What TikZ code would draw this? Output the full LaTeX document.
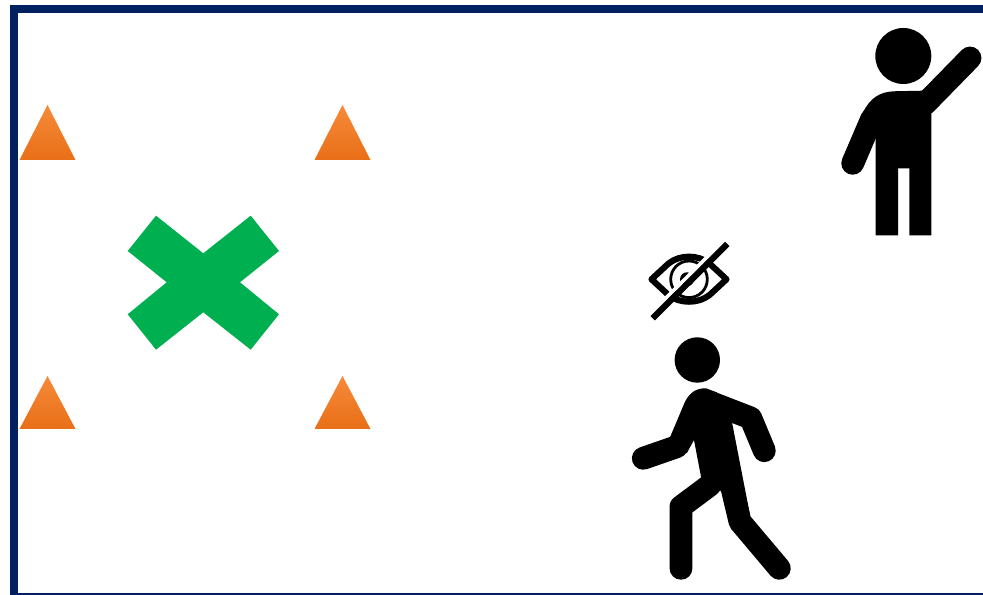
\documentclass[tikz,border=0pt]{standalone}
\usepackage{xcolor}
\usepackage{tikz}
\definecolor{frameNavy}{HTML}{002060}
\definecolor{markGreen}{HTML}{00B050}
\definecolor{coneTop}{HTML}{F68A3A}
\definecolor{coneBottom}{HTML}{E96F17}
\begin{document}
\begin{tikzpicture}[
  x=0.1mm,y=-0.1mm,
  cone/.style={top color=coneTop,bottom color=coneBottom,draw=none},
  limb/.style={line width=6.5pt,line cap=round,line join=round,black},
  eyeline/.style={line width=1.75pt,line join=round,black}
]
\useasboundingbox (0,0) rectangle (983,595);
\fill[white] (0,0) rectangle (983,595);
% frame, open on the right
\fill[frameNavy] (10,5) rectangle (983,595);
\fill[white] (18,13) rectangle (983,593);
% cones
\path[cone] (47.5,105) -- ++(28,55) -- ++(-56,0) -- cycle;
\path[cone] (342.5,105) -- ++(28,55) -- ++(-56,0) -- cycle;
\path[cone] (47.5,376) -- ++(28,53) -- ++(-56,0) -- cycle;
\path[cone] (342.5,376) -- ++(28,53) -- ++(-56,0) -- cycle;
% green cross
\fill[markGreen] (156,215.7) -- (203.3,253.3) -- (250.7,215.7) -- (279,251) -- (240,282.3)
  -- (279,314.3) -- (250.7,349.7) -- (203.3,312.3) -- (156,349.7) -- (127.7,314.3)
  -- (166.7,282.3) -- (127.7,251) -- cycle;
% person waving
\fill (903.3,56) circle (28);
\fill (875.7,235.3) -- (875.7,130) -- (863.3,112) .. controls (870,98) and (880,92) .. (893.3,91.3)
  -- (923.3,90.7) -- (931.3,113.3) -- (931.3,235.3) -- (909.3,235.3)
  -- (909.3,168.3) -- (898,168.3) -- (898,235.3) -- cycle;
\draw[limb] (852.7,163.3) -- (871.7,119);
\draw[limb] (970,58) -- (925,104);
% person walking
\fill (697.3,360) circle (22.7);
\fill (685,401.7) .. controls (690,392) and (697,388) .. (706,388.3) -- (716.7,392.3)
  -- (731.7,420.7) -- (750,515) -- (730,523.3) -- (721.7,491.7)
  -- (701,476.7) -- (694,440) -- (686.7,453.3) -- (670,437.3) -- cycle;
\draw[limb] (712,403) -- (750.7,418) -- (764.3,450.7);
\draw[limb] (676.7,446.7) -- (643.3,458.3);
\draw[limb] (681,568.3) -- (681,506.7) -- (710,485);
\draw[limb] (779.3,568.3) -- (740,521.7) -- (731.7,486.7);
% crossed out eye
\draw[eyeline] (651.5,279.3) -- (668,264) .. controls (675,258.5) and (682,256.7) .. (689,256.7)
  .. controls (696,256.7) and (703,258.5) .. (710,264) -- (726.5,279.3)
  -- (710,294.6) .. controls (703,300) and (696,301.7) .. (689,301.7)
  .. controls (682,301.7) and (675,300) .. (668,294.6) -- cycle;
\draw[line width=0.8pt] (689,279.3) circle (18.3);
\fill (687,279.3) circle (7);
\draw[white,line width=1.05pt] (649.2,314.8) -- (723.8,240.5);
\draw[eyeline,line cap=butt] (652.7,318.3) -- (727.3,244);
\end{tikzpicture}
\end{document}
